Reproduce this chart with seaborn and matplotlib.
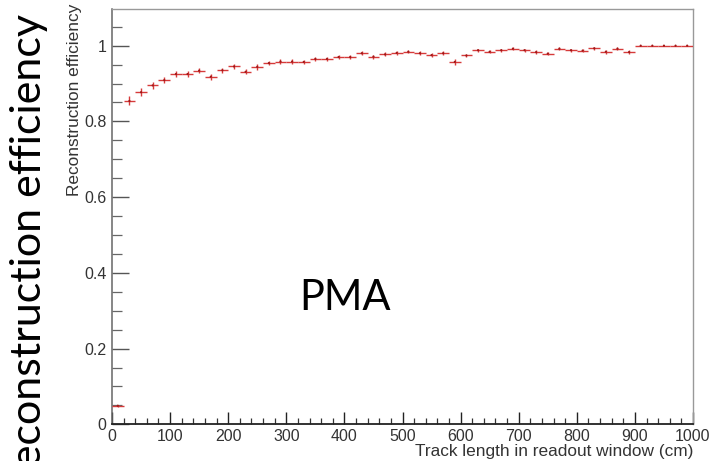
import numpy as np
import pandas as pd
import matplotlib
matplotlib.use("Agg")
import matplotlib.pyplot as plt
from matplotlib.ticker import MultipleLocator, FuncFormatter
import seaborn as sns

# ---- data ----
bin_edges_cm = list(range(0, 1001, 20))
efficiency = [0.049, 0.854, 0.877, 0.895, 0.909, 0.925, 0.925, 0.934, 0.918, 0.935,
              0.945, 0.931, 0.944, 0.954, 0.958, 0.958, 0.957, 0.965, 0.965, 0.970,
              0.970, 0.980, 0.971, 0.977, 0.981, 0.984, 0.980, 0.975, 0.980, 0.957,
              0.974, 0.988, 0.984, 0.988, 0.992, 0.988, 0.983, 0.979, 0.992, 0.988,
              0.987, 0.993, 0.984, 0.992, 0.983, 1.000, 1.000, 1.000, 1.000, 1.000]
eff_err = [0.003, 0.012, 0.010, 0.009, 0.008, 0.008, 0.008, 0.007, 0.008, 0.007,
           0.007, 0.007, 0.007, 0.006, 0.006, 0.006, 0.006, 0.006, 0.006, 0.005,
           0.005, 0.005, 0.005, 0.005, 0.005, 0.004, 0.005, 0.005, 0.005, 0.007,
           0.005, 0.004, 0.004, 0.004, 0.004, 0.004, 0.005, 0.005, 0.004, 0.004,
           0.005, 0.004, 0.005, 0.004, 0.006, 0.0, 0.0, 0.0, 0.0, 0.0]
x_ticks = [0, 100, 200, 300, 400, 500, 600, 700, 800, 900, 1000]
y_ticks = [0, 0.2, 0.4, 0.6, 0.8, 1.0]
x_label = "Track length in readout window (cm)"
y_label = "Reconstruction efficiency"
big_label = "Reconstruction efficiency"
method_label = "PMA"

edges = np.array(bin_edges_cm, dtype=float)
centers = 0.5 * (edges[:-1] + edges[1:])
half_w = 0.5 * np.diff(edges)
df = pd.DataFrame({"length": centers, "eff": efficiency, "err": eff_err, "hw": half_w})

# ---- style ----
sns.set_theme(style="ticks")
plt.rcParams["font.family"] = ["Liberation Sans", "DejaVu Sans"]

W, H = 713, 461
fig = plt.figure(figsize=(W / 100, H / 100), dpi=100)
ax_l, ax_r, ax_t, ax_b = 112, 693, 9.3, 424.3
ax = fig.add_axes([ax_l / W, 1 - ax_b / H, (ax_r - ax_l) / W, (ax_b - ax_t) / H])

red = "#d63a3a"
ax.errorbar(df["length"], df["eff"], xerr=df["hw"], yerr=df["err"], fmt="none",
            ecolor=red, elinewidth=1.0, capsize=0, zorder=3)
sns.scatterplot(data=df, x="length", y="eff", ax=ax, marker="o", s=2.5,
                color="#a01818", edgecolor="none", zorder=4, legend=False)

ax.set_xlim(0, 1000)
ax.set_ylim(0, 1.096)
ax.set_xticks(x_ticks)
ax.set_yticks(y_ticks)
ax.xaxis.set_minor_locator(MultipleLocator(20))
ax.yaxis.set_minor_locator(MultipleLocator(0.05))
ax.yaxis.set_major_formatter(FuncFormatter(lambda v, p: f"{v:g}"))

ax.tick_params(axis="x", which="major", direction="in", length=8.5, width=1.0,
               color="#222222", labelsize=11.5, pad=3.5, labelcolor="#333333")
ax.tick_params(axis="x", which="minor", direction="in", length=4.2, width=0.9,
               color="#333333")
ax.tick_params(axis="y", which="major", direction="in", length=12.5, width=1.0,
               color="#555555", labelsize=11.5, pad=4, labelcolor="#333333")
ax.tick_params(axis="y", which="minor", direction="in", length=7, width=0.9,
               color="#666666")

for side, c, lw in [("left", "#666666", 1.1), ("bottom", "#222222", 1.3),
                    ("top", "#999999", 1.0), ("right", "#999999", 1.0)]:
    ax.spines[side].set_visible(True)
    ax.spines[side].set_color(c)
    ax.spines[side].set_linewidth(lw)

ax.set_xlabel(x_label, loc="right", fontsize=12.4, color="#333333")
ax.xaxis.set_label_coords(1.0, -(443.5 - ax_b) / (ax_b - ax_t))
ax.set_ylabel(y_label, loc="top", fontsize=12.4, color="#333333")
ax.yaxis.set_label_coords((82 - ax_l) / (ax_r - ax_l), 1.013)

ax.text(345 / W, 1 - 298 / H, method_label, transform=fig.transFigure,
        ha="center", va="center", fontsize=30, family=["Lato", "DejaVu Sans"],
        color="black")

fig.text(29 / W, 1 - 14 / H, big_label, rotation=90, ha="center", va="top",
         fontsize=31, family=["Lato", "DejaVu Sans"], color="black")

fig.savefig("out.png", dpi=100)
